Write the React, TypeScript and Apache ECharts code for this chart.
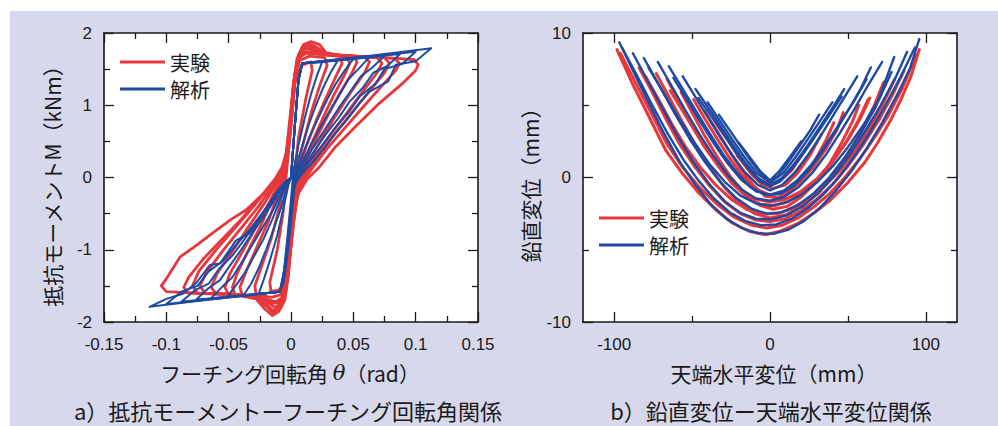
import React, { useEffect, useRef } from "react";
import * as echarts from "echarts";

// ---------- Tick values / labels ----------
const thetaMajor = [-0.15, -0.1, -0.05, 0, 0.05, 0.1, 0.15];
const thetaMinor = [-0.125, -0.075, -0.025, 0.025, 0.075, 0.125];
const momentMajor = [-2, -1, 0, 1, 2];
const momentMinor = [-1.5, -0.5, 0.5, 1.5];
const horizMajor = [-100, 0, 100];
const horizMinor = [-50, 50];
const vertMajor = [-10, 0, 10];
const vertMinor = [-5, 5];

const legendNames = ["実験", "解析"];

// ---------- a) Moment - rotation : experiment loops (theta, M) ----------
const expLoop1 = [[-0.012,0],[-0.007,0.15],[-0.002,0.45],[0.001,0.9],[0.003,1.35],[0.006,1.7],[0.01,1.84],[0.016,1.88],[0.023,1.84],[0.028,1.73],[0.036,1.7],[0.06,1.67],[0.085,1.65],[0.099,1.63],[0.102,1.56],[0.1,1.48],[0.09,1.31],[0.071,1.03],[0.052,0.71],[0.036,0.43],[0.023,0.15],[0.013,-0.02],[0.006,-0.22],[0.002,-0.5],[0,-0.9],[-0.002,-1.35],[-0.005,-1.7],[-0.01,-1.86],[-0.015,-1.91],[-0.021,-1.82],[-0.028,-1.68],[-0.045,-1.62],[-0.075,-1.6],[-0.1,-1.58],[-0.104,-1.5],[-0.1,-1.4],[-0.089,-1.1],[-0.075,-0.93],[-0.063,-0.77],[-0.048,-0.58],[-0.036,-0.45],[-0.022,-0.22],[-0.012,0]];
const expLoop2 = [[-0.01,0],[-0.005,0.2],[-0.001,0.6],[0.002,1.1],[0.005,1.6],[0.009,1.8],[0.015,1.85],[0.021,1.8],[0.027,1.72],[0.04,1.69],[0.065,1.67],[0.083,1.65],[0.087,1.58],[0.084,1.48],[0.072,1.25],[0.058,0.98],[0.044,0.7],[0.03,0.42],[0.018,0.15],[0.01,-0.05],[0.004,-0.3],[0.001,-0.8],[-0.002,-1.3],[-0.005,-1.65],[-0.009,-1.82],[-0.014,-1.88],[-0.02,-1.78],[-0.028,-1.66],[-0.05,-1.62],[-0.082,-1.6],[-0.086,-1.52],[-0.082,-1.38],[-0.07,-1.12],[-0.055,-0.85],[-0.04,-0.58],[-0.026,-0.3],[-0.016,-0.1],[-0.01,0]];
const expLoop3 = [[-0.009,0],[-0.004,0.25],[-0.001,0.7],[0.002,1.2],[0.005,1.62],[0.009,1.79],[0.015,1.83],[0.021,1.78],[0.027,1.71],[0.045,1.68],[0.075,1.66],[0.079,1.58],[0.075,1.45],[0.063,1.2],[0.049,0.9],[0.035,0.6],[0.022,0.3],[0.012,0.05],[0.005,-0.25],[0.001,-0.75],[-0.002,-1.25],[-0.005,-1.62],[-0.009,-1.8],[-0.014,-1.86],[-0.02,-1.76],[-0.03,-1.64],[-0.05,-1.61],[-0.075,-1.6],[-0.079,-1.5],[-0.074,-1.3],[-0.061,-1.02],[-0.045,-0.7],[-0.029,-0.38],[-0.016,-0.1],[-0.009,0]];
const expLoop4 = [[-0.009,0],[-0.004,0.3],[-0.001,0.75],[0.002,1.2],[0.005,1.62],[0.009,1.78],[0.014,1.82],[0.02,1.77],[0.026,1.71],[0.045,1.68],[0.069,1.66],[0.073,1.58],[0.069,1.45],[0.058,1.2],[0.045,0.9],[0.032,0.6],[0.02,0.3],[0.011,0.05],[0.005,-0.25],[0.001,-0.75],[-0.002,-1.25],[-0.005,-1.62],[-0.009,-1.8],[-0.014,-1.85],[-0.02,-1.75],[-0.03,-1.64],[-0.05,-1.61],[-0.069,-1.6],[-0.073,-1.5],[-0.068,-1.32],[-0.055,-1.02],[-0.04,-0.7],[-0.026,-0.4],[-0.015,-0.12],[-0.009,0]];
const expLoop5 = [[-0.008,0],[-0.004,0.3],[-0.001,0.8],[0.002,1.3],[0.005,1.65],[0.009,1.77],[0.015,1.78],[0.022,1.72],[0.04,1.69],[0.059,1.67],[0.063,1.6],[0.059,1.45],[0.048,1.18],[0.036,0.86],[0.024,0.52],[0.013,0.18],[0.006,-0.15],[0.002,-0.6],[-0.001,-1.1],[-0.004,-1.55],[-0.008,-1.75],[-0.013,-1.8],[-0.02,-1.7],[-0.035,-1.63],[-0.06,-1.61],[-0.064,-1.52],[-0.059,-1.32],[-0.047,-1.02],[-0.034,-0.68],[-0.021,-0.35],[-0.012,-0.08],[-0.008,0]];
const expLoop6 = [[-0.007,0],[-0.003,0.35],[0,0.85],[0.002,1.3],[0.005,1.63],[0.01,1.74],[0.017,1.74],[0.03,1.7],[0.05,1.68],[0.053,1.6],[0.049,1.45],[0.039,1.16],[0.029,0.84],[0.019,0.5],[0.011,0.18],[0.005,-0.15],[0.001,-0.65],[-0.002,-1.15],[-0.005,-1.58],[-0.01,-1.74],[-0.017,-1.74],[-0.03,-1.65],[-0.05,-1.62],[-0.053,-1.52],[-0.049,-1.33],[-0.039,-1.03],[-0.028,-0.68],[-0.017,-0.33],[-0.01,-0.08],[-0.007,0]];
const expLoop7 = [[-0.006,0],[-0.003,0.35],[0,0.85],[0.002,1.3],[0.005,1.63],[0.01,1.73],[0.018,1.72],[0.03,1.69],[0.045,1.67],[0.047,1.58],[0.043,1.42],[0.034,1.13],[0.025,0.8],[0.016,0.45],[0.009,0.13],[0.004,-0.2],[0.001,-0.7],[-0.002,-1.2],[-0.005,-1.6],[-0.01,-1.73],[-0.017,-1.72],[-0.03,-1.64],[-0.045,-1.62],[-0.047,-1.52],[-0.043,-1.32],[-0.034,-1.0],[-0.024,-0.66],[-0.015,-0.3],[-0.009,-0.07],[-0.006,0]];
const expLoop8 = [[-0.006,0],[-0.002,0.4],[0,0.9],[0.003,1.4],[0.006,1.65],[0.012,1.72],[0.025,1.7],[0.039,1.68],[0.041,1.58],[0.036,1.4],[0.028,1.1],[0.02,0.78],[0.012,0.42],[0.006,0.1],[0.002,-0.35],[-0.001,-0.9],[-0.003,-1.4],[-0.006,-1.65],[-0.012,-1.72],[-0.025,-1.66],[-0.039,-1.63],[-0.041,-1.52],[-0.036,-1.3],[-0.027,-0.95],[-0.018,-0.6],[-0.011,-0.25],[-0.006,0]];
const expLoop9 = [[-0.005,0],[-0.002,0.4],[0.001,1.0],[0.003,1.4],[0.007,1.62],[0.015,1.68],[0.027,1.66],[0.029,1.55],[0.024,1.32],[0.017,0.95],[0.011,0.55],[0.005,0.15],[0.002,-0.3],[-0.001,-0.9],[-0.004,-1.4],[-0.008,-1.62],[-0.016,-1.66],[-0.028,-1.62],[-0.029,-1.5],[-0.024,-1.25],[-0.016,-0.85],[-0.009,-0.4],[-0.005,0]];
const expLoop10 = [[-0.004,0],[0,0.7],[0.003,1.3],[0.008,1.55],[0.016,1.6],[0.017,1.48],[0.012,1.1],[0.006,0.55],[0.003,0.05],[0,-0.7],[-0.003,-1.3],[-0.008,-1.55],[-0.016,-1.58],[-0.017,-1.45],[-0.011,-1.0],[-0.006,-0.45],[-0.004,0]];

// ---------- a) Moment - rotation : analysis loops (theta, M) ----------
const anaLoop1 = [[0,0],[0.003,0.7],[0.006,1.35],[0.009,1.58],[0.035,1.63],[0.06,1.68],[0.085,1.73],[0.1125,1.79],[0.1,1.61],[0.084,1.56],[0.078,1.33],[0.063,1.19],[0.055,1.03],[0.044,0.78],[0.035,0.6],[0.026,0.39],[0.017,0.2],[0.009,0.06],[0.003,-0.1],[0,-0.6],[-0.003,-1.1],[-0.006,-1.45],[-0.009,-1.58],[-0.04,-1.64],[-0.07,-1.7],[-0.1135,-1.79],[-0.1,-1.68],[-0.0868,-1.61],[-0.076,-1.46],[-0.065,-1.21],[-0.057,-1.19],[-0.044,-0.87],[-0.033,-0.77],[-0.0226,-0.5],[-0.012,-0.25],[-0.005,-0.08],[0,0]];
const anaLoop2 = [[0,0],[0.003,0.7],[0.006,1.35],[0.009,1.58],[0.04,1.64],[0.07,1.69],[0.1,1.74],[0.089,1.57],[0.075,1.5],[0.068,1.3],[0.055,1.12],[0.047,0.92],[0.036,0.7],[0.025,0.45],[0.014,0.2],[0.006,0.04],[0.002,-0.15],[-0.001,-0.6],[-0.004,-1.1],[-0.007,-1.45],[-0.009,-1.58],[-0.05,-1.66],[-0.1,-1.75],[-0.088,-1.58],[-0.075,-1.5],[-0.066,-1.3],[-0.055,-1.16],[-0.045,-0.95],[-0.034,-0.74],[-0.022,-0.47],[-0.012,-0.22],[-0.004,-0.05],[0,0]];
const anaLoop3 = [[0,0],[0.003,0.7],[0.006,1.35],[0.009,1.58],[0.05,1.65],[0.0875,1.71],[0.077,1.54],[0.066,1.45],[0.058,1.25],[0.047,1.05],[0.038,0.82],[0.028,0.6],[0.018,0.35],[0.009,0.12],[0.003,-0.05],[0,-0.5],[-0.003,-1.0],[-0.006,-1.4],[-0.009,-1.58],[-0.05,-1.65],[-0.088,-1.72],[-0.077,-1.56],[-0.066,-1.47],[-0.058,-1.27],[-0.047,-1.08],[-0.037,-0.85],[-0.027,-0.6],[-0.017,-0.35],[-0.008,-0.12],[0,0]];
const anaLoop4 = [[0,0],[0.003,0.7],[0.006,1.35],[0.009,1.58],[0.04,1.63],[0.075,1.68],[0.065,1.52],[0.056,1.4],[0.048,1.2],[0.039,0.98],[0.03,0.74],[0.021,0.5],[0.012,0.26],[0.005,0.06],[0.001,-0.3],[-0.002,-0.85],[-0.005,-1.3],[-0.009,-1.58],[-0.04,-1.64],[-0.076,-1.69],[-0.066,-1.53],[-0.057,-1.42],[-0.049,-1.22],[-0.04,-1.0],[-0.031,-0.77],[-0.021,-0.52],[-0.012,-0.28],[-0.005,-0.08],[0,0]];
const anaLoop5 = [[0,0],[0.003,0.7],[0.006,1.35],[0.009,1.58],[0.035,1.62],[0.0625,1.66],[0.054,1.5],[0.046,1.36],[0.039,1.15],[0.031,0.92],[0.023,0.68],[0.015,0.42],[0.008,0.18],[0.003,0.02],[0,-0.4],[-0.003,-0.95],[-0.006,-1.38],[-0.009,-1.58],[-0.035,-1.63],[-0.064,-1.67],[-0.055,-1.51],[-0.047,-1.38],[-0.039,-1.16],[-0.031,-0.93],[-0.023,-0.7],[-0.014,-0.44],[-0.007,-0.18],[-0.002,-0.03],[0,0]];
const anaLoop6 = [[0,0],[0.003,0.7],[0.006,1.35],[0.009,1.58],[0.03,1.61],[0.05,1.64],[0.043,1.48],[0.036,1.3],[0.029,1.08],[0.022,0.83],[0.015,0.57],[0.009,0.3],[0.004,0.08],[0.001,-0.3],[-0.002,-0.85],[-0.005,-1.3],[-0.009,-1.58],[-0.03,-1.62],[-0.051,-1.65],[-0.044,-1.49],[-0.037,-1.32],[-0.03,-1.1],[-0.022,-0.85],[-0.015,-0.58],[-0.009,-0.32],[-0.004,-0.1],[0,0]];
const anaLoop7 = [[0,0],[0.003,0.7],[0.006,1.35],[0.009,1.58],[0.025,1.6],[0.0375,1.62],[0.032,1.46],[0.026,1.25],[0.02,1.0],[0.014,0.72],[0.009,0.44],[0.004,0.15],[0.001,-0.2],[-0.002,-0.75],[-0.005,-1.25],[-0.009,-1.58],[-0.025,-1.61],[-0.038,-1.63],[-0.032,-1.47],[-0.026,-1.26],[-0.02,-1.0],[-0.014,-0.72],[-0.008,-0.42],[-0.003,-0.12],[0,0]];
const anaLoop8 = [[0,0],[0.003,0.7],[0.006,1.35],[0.009,1.58],[0.025,1.6],[0.021,1.42],[0.016,1.15],[0.011,0.82],[0.006,0.45],[0.002,0.1],[0,-0.3],[-0.003,-0.85],[-0.006,-1.35],[-0.009,-1.58],[-0.026,-1.61],[-0.022,-1.42],[-0.017,-1.15],[-0.011,-0.8],[-0.006,-0.42],[-0.002,-0.1],[0,0]];

// ---------- b) Vertical - horizontal displacement : experiment (mm, mm) ----------
const expPath1 = [[-98.2,8.85],[-88.5,6.54],[-77.8,4.24],[-67.1,1.92],[-56.4,0.31],[-45.7,-1.07],[-34.9,-2.23],[-24.2,-3.15],[-13.5,-3.72],[-2.8,-3.96],[6.9,-3.7],[17.6,-3.2],[28.3,-2.46],[39,-1.54],[49.7,-0.38],[60.5,1.0],[69,2.39],[77.6,4.0],[84,5.38],[90.5,7.0],[95.8,8.85]];
const expPath2 = [[-96,8.6],[-86,6.5],[-76,4.4],[-66,2.3],[-56,0.7],[-45,-0.7],[-34,-1.85],[-23,-2.75],[-12,-3.3],[-2,-3.5],[8,-3.3],[18,-2.8],[28,-2.05],[38,-1.15],[48,0.0],[58,1.35],[67,2.75],[76,4.3],[85,6.2],[94,8.5]];
const expPath3 = [[-84,7.6],[-76,6.0],[-67,4.1],[-58,2.3],[-49,0.85],[-39,-0.55],[-29,-1.7],[-19,-2.5],[-9,-2.95],[0,-3.05],[10,-2.85],[20,-2.3],[30,-1.5],[40,-0.5],[50,0.8],[60,2.3],[70,4.0],[79,5.8],[86,7.4]];
const expPath4 = [[-80,7.0],[-72,5.5],[-63,3.7],[-54,2.1],[-45,0.75],[-35,-0.5],[-25,-1.5],[-15,-2.2],[-5,-2.55],[5,-2.5],[15,-2.1],[25,-1.45],[35,-0.6],[45,0.5],[55,1.9],[64,3.4],[72,5.0],[80,6.8]];
const expPath5 = [[-73,7.2],[-65,5.6],[-56,3.8],[-47,2.1],[-38,0.6],[-29,-0.7],[-20,-1.75],[-10,-2.5],[0,-2.8],[10,-2.6],[20,-2.0],[30,-1.1],[40,0.1],[50,1.6],[59,3.3],[67,5.0],[73,6.6]];
const expPath6 = [[-66,6.8],[-58,5.2],[-50,3.6],[-42,2.1],[-33,0.75],[-24,-0.45],[-15,-1.35],[-6,-1.85],[3,-1.95],[12,-1.65],[21,-1.05],[30,-0.2],[39,0.9],[48,2.3],[56,3.8],[63,5.4]];
const expPath7 = [[-64,6.0],[-56,4.6],[-47,3.0],[-38,1.6],[-29,0.3],[-20,-0.75],[-10,-1.45],[0,-1.7],[10,-1.5],[20,-0.95],[30,-0.1],[40,1.1],[50,2.6],[58,4.1],[64,5.5]];
const expPath8 = [[-57,5.9],[-50,4.5],[-42,2.9],[-34,1.45],[-25,0.0],[-16,-1.1],[-7,-1.9],[2,-2.2],[11,-2.0],[20,-1.35],[29,-0.4],[38,0.9],[46,2.4],[53,3.9],[57,5.0]];
const expPath9 = [[-49,5.4],[-42,4.1],[-34,2.7],[-26,1.35],[-18,0.15],[-9,-0.8],[0,-1.2],[9,-1.05],[18,-0.45],[27,0.6],[36,2.0],[43,3.3],[47,4.5]];
const expPath10 = [[-42,4.6],[-35,3.4],[-27,2.0],[-19,0.65],[-11,-0.5],[-3,-1.3],[5,-1.4],[13,-0.95],[21,-0.05],[29,1.2],[36,2.6],[41,3.8]];
const expPath11 = [[-34,3.7],[-27,2.6],[-20,1.4],[-12,0.25],[-5,-0.5],[2,-0.75],[10,-0.5],[18,0.35],[26,1.6],[33,3.0]];
const expPath12 = [[-21,1.5],[-14,0.6],[-7,-0.15],[0,-0.5],[7,-0.2],[14,0.5],[20,1.5]];

// ---------- b) Vertical - horizontal displacement : analysis (mm, mm) ----------
const anaPath1 = [[-96.7,9.36],[-88,7.4],[-78,5.2],[-68,3.05],[-58,1.1],[-48,-0.5],[-38,-1.85],[-28,-2.85],[-18,-3.5],[-8,-3.85],[2,-3.9],[12,-3.6],[22,-3.0],[32,-2.1],[42,-0.95],[52,0.4],[62,2.0],[72,3.8],[82,5.8],[90,7.6],[95.8,9.58]];
const anaPath2 = [[-95,9.0],[-86,7.2],[-76,5.1],[-66,3.1],[-56,1.3],[-46,-0.2],[-36,-1.45],[-26,-2.4],[-16,-3.0],[-6,-3.3],[4,-3.25],[14,-2.85],[24,-2.15],[34,-1.2],[44,0.0],[54,1.45],[64,3.1],[74,5.0],[84,7.0],[93,9.0]];
const anaPath3 = [[-88,8.6],[-79,6.8],[-69,4.8],[-59,2.8],[-49,1.05],[-39,-0.45],[-29,-1.65],[-19,-2.45],[-9,-2.85],[1,-2.9],[11,-2.6],[21,-2.0],[31,-1.1],[41,0.1],[51,1.55],[61,3.2],[71,5.0],[81,7.0],[88,8.7]];
const anaPath4 = [[-81,8.27],[-72,6.55],[-62,4.6],[-52,2.75],[-42,1.1],[-32,-0.3],[-22,-1.4],[-12,-2.15],[-2,-2.5],[8,-2.4],[18,-1.9],[28,-1.1],[38,0.0],[48,1.4],[58,3.0],[68,4.9],[79.7,8.34]];
const anaPath5 = [[-78,7.6],[-69,6.0],[-59,4.2],[-49,2.5],[-39,0.95],[-29,-0.3],[-19,-1.25],[-9,-1.8],[0,-1.95],[10,-1.75],[20,-1.2],[30,-0.35],[40,0.75],[50,2.1],[60,3.65],[70,5.4],[78,7.3]];
const anaPath6 = [[-72,8.0],[-63,6.3],[-54,4.6],[-45,2.95],[-36,1.45],[-27,0.15],[-18,-0.85],[-9,-1.45],[0,-1.6],[9,-1.35],[18,-0.7],[27,0.3],[36,1.6],[45,3.1],[54,4.7],[63,6.4],[72,8.0]];
const anaPath7 = [[-65,7.7],[-57,6.3],[-48,4.7],[-39,3.1],[-30,1.6],[-21,0.3],[-12,-0.7],[-3,-1.2],[6,-1.15],[15,-0.6],[24,0.4],[33,1.7],[42,3.2],[51,4.8],[58,6.1],[64.7,7.62]];
const anaPath8 = [[-62,6.9],[-54,5.5],[-45,3.9],[-36,2.35],[-27,0.95],[-18,-0.2],[-9,-0.95],[0,-1.2],[9,-0.9],[18,-0.15],[27,0.95],[36,2.3],[45,3.8],[54,5.3],[62,6.8]];
const anaPath9 = [[-56,7.0],[-48,5.6],[-40,4.2],[-32,2.8],[-24,1.5],[-16,0.35],[-8,-0.5],[0,-0.9],[8,-0.5],[16,0.35],[24,1.5],[32,2.8],[40,4.2],[48,5.6],[56,7.0]];
const anaPath10 = [[-47.8,6.12],[-40,4.9],[-32,3.6],[-24,2.3],[-16,1.05],[-8,0.0],[0,-0.55],[8,0.0],[16,1.0],[24,2.2],[32,3.5],[40,4.8],[47.6,6.12]];
const anaPath11 = [[-46,5.5],[-38,4.3],[-30,3.0],[-22,1.75],[-14,0.6],[-6,-0.3],[0,-0.6],[6,-0.3],[14,0.6],[22,1.75],[30,3.0],[38,4.3],[46,5.6]];
const anaPath12 = [[-40,5.2],[-32,3.9],[-24,2.6],[-16,1.35],[-8,0.25],[0,-0.35],[8,0.25],[16,1.35],[24,2.6],[32,3.9],[40,5.2]];
const anaPath13 = [[-32.8,4.35],[-26,3.3],[-19,2.2],[-12,1.1],[-5,0.1],[0,-0.25],[5,0.1],[12,1.1],[19,2.2],[26,3.3],[31.5,4.35]];
const anaPath14 = [[-20,2.4],[-13,1.4],[-6,0.4],[0,-0.2],[6,0.45],[13,1.45],[20,2.5]];

const expLoops = [expLoop1, expLoop2, expLoop3, expLoop4, expLoop5, expLoop6, expLoop7, expLoop8, expLoop9, expLoop10];
const anaLoops = [anaLoop1, anaLoop2, anaLoop3, anaLoop4, anaLoop5, anaLoop6, anaLoop7, anaLoop8];
const expPaths = [expPath1, expPath2, expPath3, expPath4, expPath5, expPath6, expPath7, expPath8, expPath9, expPath10, expPath11, expPath12];
const anaPaths = [anaPath1, anaPath2, anaPath3, anaPath4, anaPath5, anaPath6, anaPath7, anaPath8, anaPath9, anaPath10, anaPath11, anaPath12, anaPath13, anaPath14];

const RED = "#e6383c";
const BLUE = "#1f4aa2";
const INK = "#1a1a1a";
const NUMFONT = "'Liberation Sans', Arial, sans-serif";
const JFONT = "'Noto Sans CJK JP', 'Noto Sans', sans-serif";

function fmt(v: number) {
  return String(Math.round(v * 1000) / 1000);
}

function makeAxes(dim: "x" | "y", gridIndex: number, min: number, max: number, majors: number[], minors: number[]) {
  const main = dim === "x" ? "bottom" : "left";
  const opp = dim === "x" ? "top" : "right";
  const base = (position: string, ticks: number[], len: number, showLabel: boolean, showLine: boolean) => ({
    type: "value",
    gridIndex,
    position,
    min,
    max,
    axisLine: { show: showLine, onZero: false, lineStyle: { color: INK, width: 1.6 } },
    axisTick: { show: true, inside: true, length: len, customValues: ticks, lineStyle: { color: INK, width: 1.3 } },
    axisLabel: showLabel
      ? { show: true, customValues: majors, fontSize: 17, color: INK, fontFamily: NUMFONT, margin: dim === "x" ? 14 : 12, formatter: fmt }
      : { show: false },
    splitLine: { show: false },
    minorTick: { show: false },
    minorSplitLine: { show: false },
  });
  return [
    base(main, majors, 10, true, true),
    base(opp, majors, 10, false, true),
    base(main, minors, 6, false, false),
    base(opp, minors, 6, false, false),
  ];
}

function lineSeries(data: number[][], color: string, width: number, xi: number, yi: number, z: number) {
  return {
    type: "line",
    data,
    xAxisIndex: xi,
    yAxisIndex: yi,
    showSymbol: false,
    symbol: "none",
    silent: true,
    z,
    lineStyle: { color, width, join: "round", cap: "round" },
  };
}

function txt(x: number, y: number, text: string, fontSize: number, extra: any = {}) {
  return {
    type: "text",
    x,
    y,
    silent: true,
    ...extra,
    style: {
      text,
      fontSize,
      fontFamily: JFONT,
      fill: INK,
      align: extra.align || "center",
      verticalAlign: "middle",
      rich: extra.rich,
    },
  };
}

function legend(x: number, y: number) {
  return [
    { type: "line", silent: true, shape: { x1: x, y1: y, x2: x + 45, y2: y }, style: { stroke: RED, lineWidth: 3 } },
    txt(x + 50, y, legendNames[0], 20, { align: "left" }),
    { type: "line", silent: true, shape: { x1: x, y1: y + 27, x2: x + 45, y2: y + 27 }, style: { stroke: BLUE, lineWidth: 3 } },
    txt(x + 50, y + 27, legendNames[1], 20, { align: "left" }),
  ];
}

export default function App() {
  const ref = useRef<HTMLDivElement>(null);
  useEffect(() => {
    if (!ref.current) return;
    const chart = echarts.init(ref.current, undefined, { renderer: "svg" });
    const xAxes = [
      ...makeAxes("x", 0, -0.15, 0.15, thetaMajor, thetaMinor),
      ...makeAxes("x", 1, -120, 120, horizMajor, horizMinor),
    ];
    const yAxes = [
      ...makeAxes("y", 0, -2, 2, momentMajor, momentMinor),
      ...makeAxes("y", 1, -10, 10, vertMajor, vertMinor),
    ];
    const series: any[] = [];
    expLoops.forEach((d) => series.push(lineSeries(d, RED, 2.8, 0, 0, 2)));
    anaLoops.forEach((d) => series.push(lineSeries(d, BLUE, 2, 0, 0, 3)));
    expPaths.forEach((d) => series.push(lineSeries(d, RED, 3, 4, 4, 2)));
    anaPaths.forEach((d) => series.push(lineSeries(d, BLUE, 2.4, 4, 4, 3)));

    const option: any = {
      animation: false,
      backgroundColor: "transparent",
      grid: [
        { left: 104, top: 33, width: 374, height: 289, show: true, backgroundColor: "#ffffff", borderWidth: 0, containLabel: false, outerBoundsMode: "none" },
        { left: 583, top: 33, width: 374, height: 289, show: true, backgroundColor: "#ffffff", borderWidth: 0, containLabel: false, outerBoundsMode: "none" },
      ],
      xAxis: xAxes,
      yAxis: yAxes,
      series,
      graphic: [
        ...legend(120, 62),
        ...legend(599, 218),
        txt(52, 181, "抵抗モーメントM（kNm）", 21, { rotation: Math.PI / 2 }),
        txt(290, 373, "フーチング回転角 {t|θ}（rad）", 21, {
          rich: { t: { fontFamily: "'DejaVu Serif', 'Liberation Serif', serif", fontStyle: "italic", fontSize: 21 } },
        }),
        txt(530, 180, "鉛直変位（mm）", 21, { rotation: Math.PI / 2 }),
        txt(774, 373, "天端水平変位（mm）", 21),
        txt(288, 410, "a）抵抗モーメントーフーチング回転角関係", 22),
        txt(771, 410, "b）鉛直変位ー天端水平変位関係", 22),
      ],
    };
    chart.setOption(option);
    return () => chart.dispose();
  }, []);

  return (
    <div style={{ position: "fixed", left: 0, top: 0, width: 998, height: 426, background: "#ffffff", overflow: "hidden" }}>
      <div style={{ position: "absolute", left: 10, top: 11, right: 0, bottom: 0, background: "#d7d8ec" }} />
      <div ref={ref} style={{ position: "absolute", left: 0, top: 0, width: 998, height: 426 }} />
    </div>
  );
}
